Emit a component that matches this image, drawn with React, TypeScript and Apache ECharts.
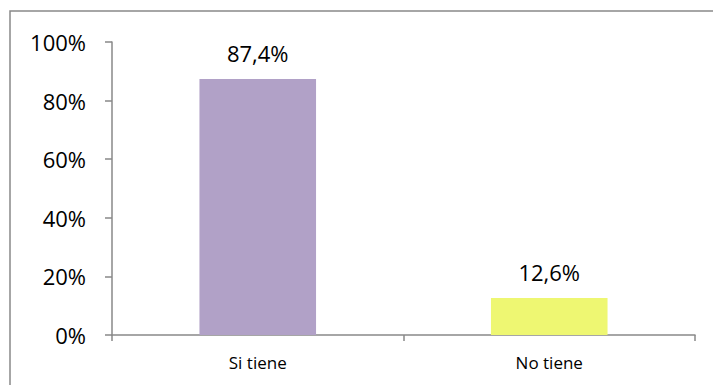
import React, { useEffect, useRef } from "react";
import * as echarts from "echarts";

const categories = ["Si tiene", "No tiene"];
const values = [87.4, 12.6];
const barColors = ["#B1A1C7", "#EEF772"];
const yTicks = [0, 20, 40, 60, 80, 100];

const FONT = "Open Sans";

export default function App() {
  const ref = useRef<HTMLDivElement>(null);
  useEffect(() => {
    document.body.style.margin = "0";
    const chart = echarts.init(ref.current!, null, { renderer: "svg" });
    chart.setOption({
      animation: false,
      backgroundColor: "#ffffff",
      textStyle: { fontFamily: FONT },
      grid: { left: 112, right: 18, top: 42, bottom: 50, containLabel: false },
      graphic: [
        {
          type: "rect",
          shape: { x: 10, y: 11, width: 720, height: 400 },
          style: { fill: "none", stroke: "#898989", lineWidth: 1.5 },
          silent: true,
        },
      ],
      xAxis: {
        type: "category",
        data: categories,
        boundaryGap: true,
        axisLine: { show: true, lineStyle: { color: "#898989", width: 1.5 } },
        axisTick: { show: true, length: 6, alignWithLabel: false, lineStyle: { color: "#898989", width: 1.5 } },
        axisLabel: { color: "#000", fontSize: 17, fontFamily: FONT, margin: 19 },
        splitLine: { show: false },
      },
      yAxis: {
        type: "value",
        min: yTicks[0],
        max: yTicks[yTicks.length - 1],
        interval: 20,
        axisLine: { show: true, lineStyle: { color: "#898989", width: 1.5 } },
        axisTick: { show: true, length: 7, lineStyle: { color: "#898989", width: 1.5 } },
        axisLabel: { color: "#000", fontSize: 22, fontFamily: FONT, margin: 26, formatter: (v: number) => v + "%" },
        splitLine: { show: false },
      },
      series: [
        {
          type: "bar",
          barWidth: "40%",
          data: values.map((v, i) => ({ value: v, itemStyle: { color: barColors[i] } })),
          label: {
            show: true,
            position: "top",
            distance: 15,
            color: "#000",
            fontSize: 22,
            fontFamily: FONT,
            formatter: (p: any) => String(p.value).replace(".", ",") + "%",
          },
        },
      ],
    });
    return () => chart.dispose();
  }, []);
  return <div ref={ref} style={{ width: 713, height: 385 }} />;
}
